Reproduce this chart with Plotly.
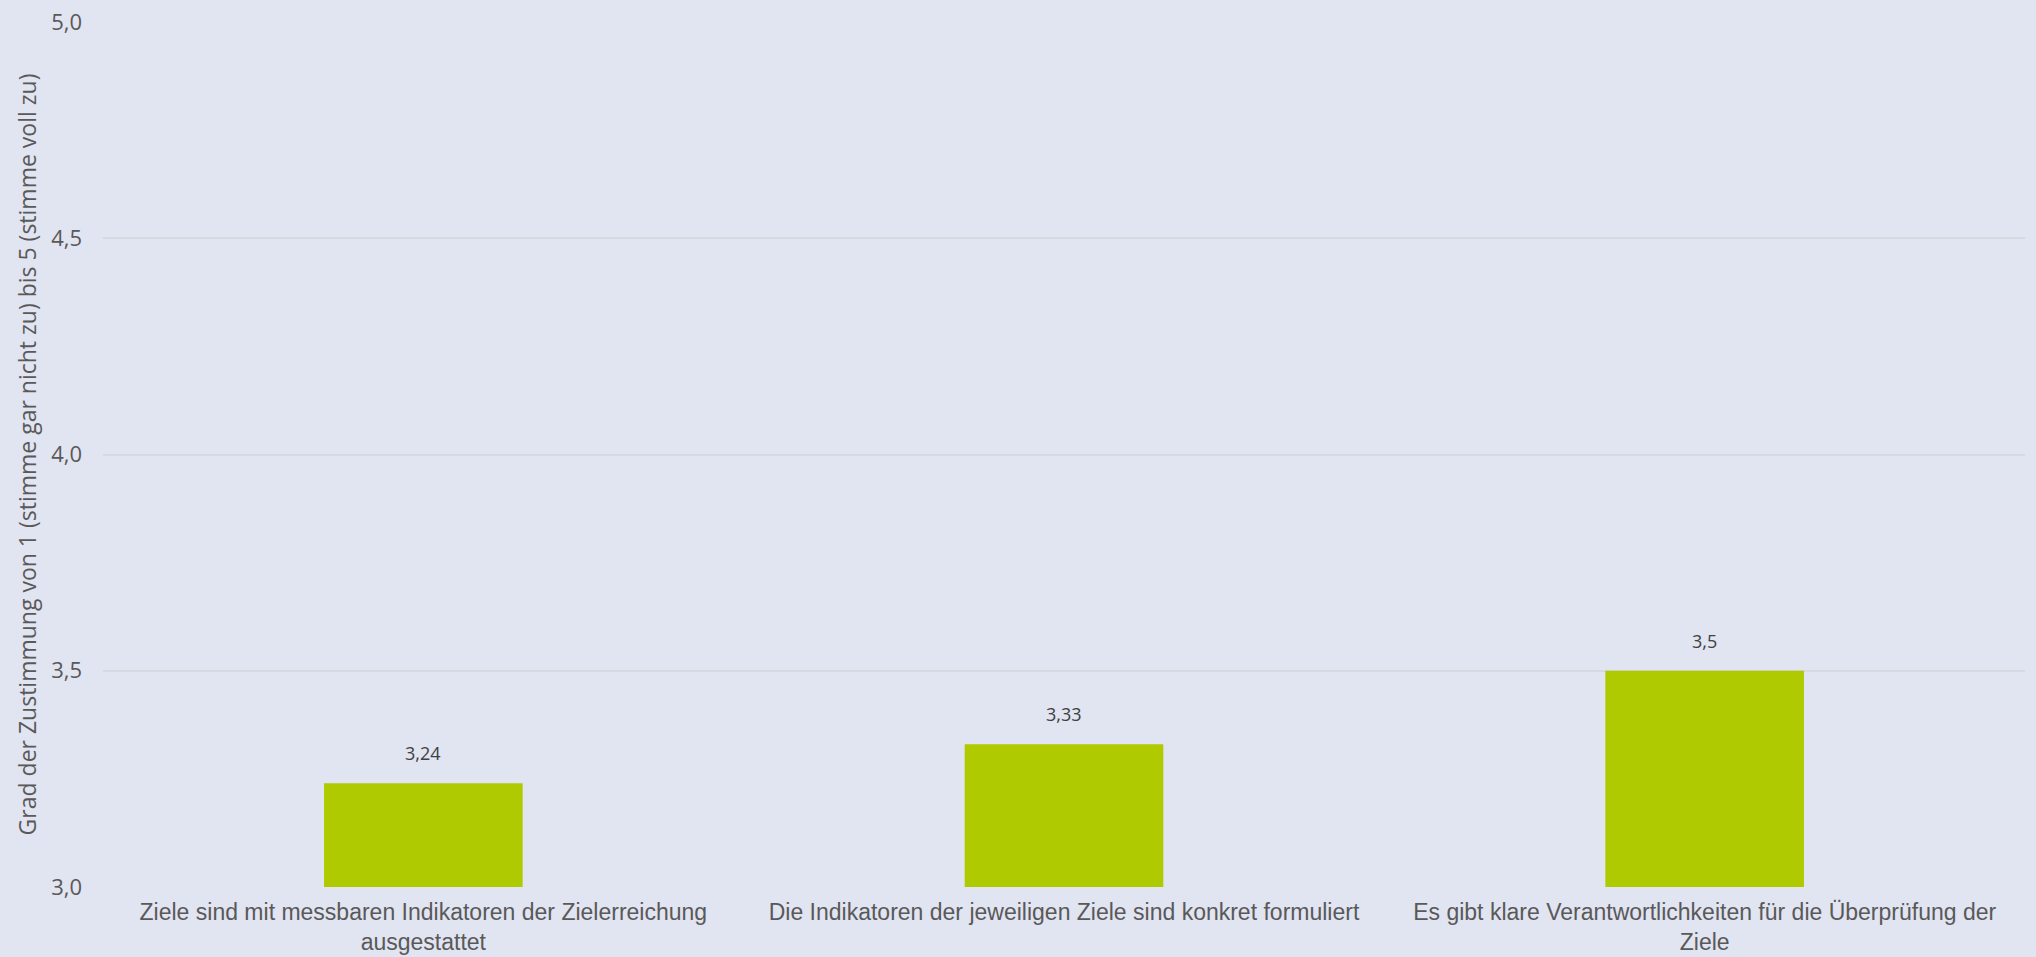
import plotly.graph_objects as go

# Survey data
categories = [
    'Ziele sind mit messbaren Indikatoren der Zielerreichung<br>ausgestattet',
    'Die Indikatoren der jeweiligen Ziele sind konkret formuliert',
    'Es gibt klare Verantwortlichkeiten für die Überprüfung der<br>Ziele',
]
values = [3.24, 3.33, 3.5]
y_ticks = [3.0, 3.5, 4.0, 4.5, 5.0]

BG = '#E1E4F1'
BAR = '#AFCA00'
GRID = '#D6D9DF'

labels = [f'{v:g}'.replace('.', ',') for v in values]

fig = go.Figure()

fig.add_trace(go.Bar(
    x=categories,
    y=values,
    base=0,
    marker=dict(color=BAR, line=dict(width=0)),
    width=0.31,
    hoverinfo='skip',
))

# value labels above the bars
for cat, val, lab in zip(categories, values, labels):
    fig.add_annotation(
        x=cat, y=val, text=lab, showarrow=False,
        yanchor='bottom', yshift=16,
        font=dict(family='Open Sans', size=18, color='#404040'),
    )

fig.update_layout(
    width=2036,
    height=957,
    margin=dict(l=103, r=11, t=22, b=70),
    paper_bgcolor=BG,
    plot_bgcolor=BG,
    showlegend=False,
    separators=',.',
    xaxis=dict(
        showgrid=False,
        showline=False,
        ticks='',
        automargin=False,
        ticklabelstandoff=9,
        tickfont=dict(family='Liberation Sans', size=23, color='#595959'),
    ),
    yaxis=dict(
        range=[3, 5],
        tickvals=y_ticks,
        tickformat='.1f',
        showgrid=True,
        gridcolor=GRID,
        gridwidth=2,
        zeroline=False,
        showline=False,
        ticks='',
        automargin=False,
        ticklabelstandoff=20,
        tickfont=dict(family='Open Sans', size=22, color='#595959'),
        title=dict(
            text='Grad der Zustimmung von 1 (stimme gar nicht zu) bis 5 (stimme voll zu)',
            font=dict(family='Open Sans', size=23, color='#595959'),
            standoff=8,
        ),
    ),
)

fig.write_html(
    'out.html',
    config={'displayModeBar': False},
    post_script="document.body.style.margin='0';document.body.style.overflow='hidden';",
)
